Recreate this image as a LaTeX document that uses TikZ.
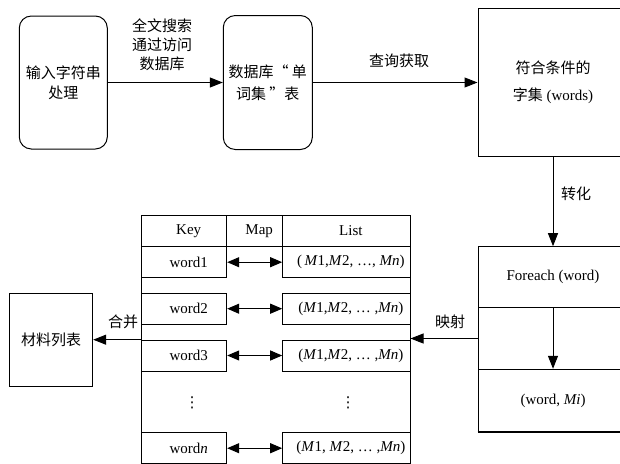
\documentclass[tikz,border=0pt]{standalone}
\usepackage{fontspec}
\setmainfont{Liberation Serif}
\newfontfamily\cjk{Noto Sans CJK SC}
\newfontfamily\sym{DejaVu Sans}
\usetikzlibrary{arrows.meta}

\begin{document}
\begin{tikzpicture}[x=1pt, y=-1pt, line width=1pt,
	font=\fontsize{15}{20}\selectfont,
	rbox/.style={draw, rectangle, rounded corners=12pt, align=center, font=\fontsize{15}{20}\selectfont\cjk},
	sbox/.style={draw, rectangle, align=center},
	cell/.style={draw, rectangle, minimum height=31pt, inner sep=0pt, execute at begin node={\hspace*{9pt}}},
	arr/.style={-{Triangle[length=13pt, width=10pt]}},
	dbl/.style={{Triangle[length=12pt, width=10pt]}-{Triangle[length=12pt, width=10pt]}},
	lbl/.style={align=center, font=\fontsize{15}{19}\selectfont\cjk}]
				\useasboundingbox (0,0) rectangle (620,463);
				\clip (0,0) rectangle (620,463);
				\node[rbox, minimum width=88pt, minimum height=133pt] (inp)at(63.3, 82.5) {输入字符串\\处理};
				\node[rbox, minimum width=89pt, minimum height=134pt] (db)at(267.8, 82.5) {数据库“ 单\\[2pt]词集 ”表};
				\node[sbox, minimum width=150pt, minimum height=148.4pt] (set)at(553, 82.5) {{\cjk 符合条件的}\\[7pt]{\cjk 字集} (words)};
				\node[sbox, minimum width=150pt, minimum height=61pt] (fe)at(553, 277.2) {Foreach (word)};
				\node[sbox, minimum width=150pt, minimum height=61.6pt] (femid)at(553, 338.5) {};
				\node[sbox, minimum width=150pt, minimum height=62.4pt] (pair)at(553, 400.5) {(word, \textit{Mi})};
				\draw[line width=1.8pt] (pair.south west) -- (pair.south east);
				\node[sbox, minimum width=83.4pt, minimum height=92.7pt, font=\fontsize{15}{20}\selectfont\cjk] (mat)at(51, 339.7) {材料列表};
				\node[draw, rectangle, minimum width=268.3pt, minimum height=260pt] (tbl)at(275.85, 345) {};
				\node[cell, minimum width=85pt] (hkey)at(184.2, 230.85) {Key};
				\node[cell, minimum width=56pt] (hmap)at(254.7, 230.85) {Map};
				\node[cell, minimum width=127.3pt] (hlist)at(346.35, 230.85) {List};
				\node[cell, minimum width=85pt] (k1)at(184.2, 262.2) {word1};
				\node[cell, minimum width=127.3pt] (l1)at(346.35, 262.2) {(\,\textit{M}1,\textit{M}2, …, \textit{Mn})};
				\node[cell, minimum width=85pt] (k2)at(184.2, 308.7) {word2};
				\node[cell, minimum width=127.3pt] (l2)at(346.35, 308.7) {(\textit{M}1,\textit{M}2, … ,\textit{Mn})};
				\node[cell, minimum width=85pt] (k3)at(184.2, 355.5) {word3};
				\node[cell, minimum width=127.3pt] (l3)at(346.35, 355.5) {(\textit{M}1,\textit{M}2, … ,\textit{Mn})};
				\node[font=\fontsize{15}{20}\selectfont\sym] (kdots)at(192, 403) {⋮};
				\node[font=\fontsize{15}{20}\selectfont\sym] (ldots)at(348, 403) {⋮};
				\node[cell, minimum width=85pt] (kn)at(184.2, 448.2) {word\textit{n}};
				\node[cell, minimum width=127.3pt] (ln)at(346.35, 448.2) {(\textit{M}1, \textit{M}2, … ,\textit{Mn})};
				\node[lbl] (srch)at(162, 44.3) {全文搜索\\通过访问\\数据库};
				\node[lbl] (qry)at(399, 61) {查询获取};
				\node[lbl] (conv)at(576, 194) {转化};
				\node[lbl] (mapl)at(450, 322) {映射};
				\node[lbl] (merge)at(123, 322) {合并};
				\draw[arr] (inp) -- (db);
				\draw[arr] (db) -- (set);
				\draw[arr] (set) -- (fe);
				\draw[arr] (fe) -- (pair);
				\draw[arr] (femid.west) -- (femid.west -| tbl.east);
				\draw[arr] (tbl.west |- mat.east) -- (mat.east);
				\draw[dbl] (k1) -- (l1);
				\draw[dbl] (k2) -- (l2);
				\draw[dbl] (k3) -- (l3);
				\draw[dbl] (kn) -- (ln);
\end{tikzpicture}
\end{document}
